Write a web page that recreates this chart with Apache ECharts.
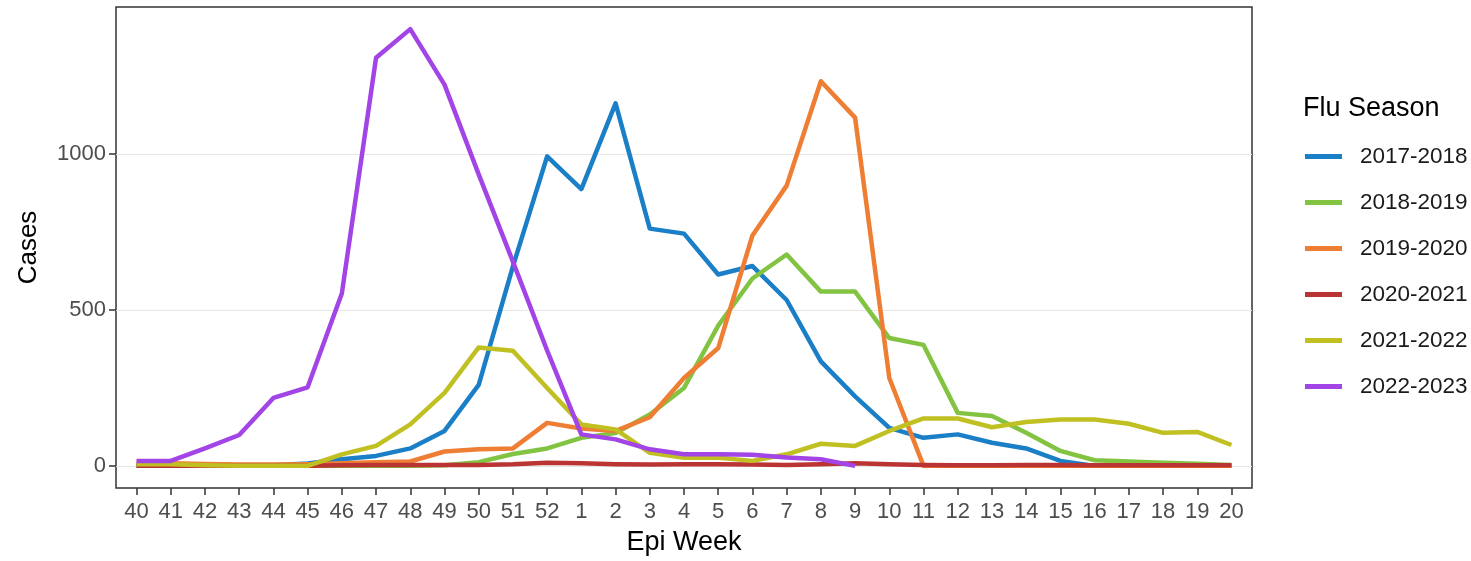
<!DOCTYPE html>
<html>
<head>
<meta charset="utf-8">
<script src="https://cdn.jsdelivr.net/npm/echarts@6/dist/echarts.min.js"></script>
<style>
html,body{margin:0;padding:0;background:#fff;}
#chart{width:1471px;height:561px;}
</style>
</head>
<body>
<div id="chart"></div>
<script>
const weeks = ['40','41','42','43','44','45','46','47','48','49','50','51','52',
  '1','2','3','4','5','6','7','8','9','10','11','12','13','14','15','16','17','18','19','20'];
const seasons = ['2017-2018','2018-2019','2019-2020','2020-2021','2021-2022','2022-2023'];
const s2017_2018 = [0,0,0,0,2,8,21,32,56,112,260,640,993,
  888,1163,761,745,614,641,532,335,223,122,90,101,74,56,16,0,0,0,0,0];
const s2018_2019 = [0,0,0,0,0,0,0,0,0,2,12,38,56,
  90,105,165,250,450,601,678,559,559,410,388,170,160,106,48,18,14,10,7,3];
const s2019_2020 = [10,8,6,4,4,5,8,12,14,46,53,56,138,
  120,112,156,282,378,739,899,1234,1117,282,0,0,0,0,0,0,0,0,0,0];
const s2020_2021 = [0,0,0,0,0,0,2,3,3,3,3,5,10,
  8,5,4,5,5,4,3,5,8,5,3,2,2,3,3,2,2,2,2,2];
const s2021_2022 = [5,5,2,0,0,0,37,64,133,234,380,369,250,
  133,117,42,26,26,16,37,71,64,112,152,152,124,141,149,149,135,106,109,67];
const s2022_2023 = [16,16,56,99,218,252,553,1309,1401,1223,935,655,370,
  101,85,53,37,37,36,27,21,0,null,null,null,null,null,null,null,null,null,null,null];
const yTicks = [0,500,1000];

const seriesValues = [s2017_2018,s2018_2019,s2019_2020,s2020_2021,s2021_2022,s2022_2023];
const colors = ['#1a7fc6','#82c341','#ee7e33','#bb3434','#c0c023','#a244e6'];
const FONT = 'Liberation Sans, Arial, sans-serif';

const chart = echarts.init(document.getElementById('chart'), null, {renderer:'canvas'});
const idx = weeks.map((w,i)=>i);

chart.setOption({
  animation:false,
  backgroundColor:'#ffffff',
  textStyle:{fontFamily:FONT},
  color:colors,
  title:{
    text:'Flu Season', left:1298, top:90,
    textStyle:{fontFamily:FONT, fontSize:27, fontWeight:'normal', color:'#000'}
  },
  legend:{
    orient:'vertical', left:1300, top:140,
    itemWidth:37, itemHeight:5, itemGap:23, icon:'rect',
    data:seasons,
    textStyle:{fontFamily:FONT, fontSize:22.5, color:'#1a1a1a', lineHeight:22, padding:[0,0,0,13]}
  },
  grid:{left:116, right:219, top:7, bottom:70.5, show:true, borderColor:'#333333', borderWidth:1.5, backgroundColor:'transparent', containLabel:false},
  xAxis:{
    type:'value', min:-0.6, max:32.6,
    name:'Epi Week', nameLocation:'middle', nameGap:41,
    nameTextStyle:{fontFamily:FONT, fontSize:27, color:'#000'},
    axisLine:{show:false, onZero:false},
    axisTick:{show:true, length:7, customValues:idx, lineStyle:{color:'#333', width:1.5}},
    axisLabel:{show:true, customValues:idx, margin:13, fontFamily:FONT, fontSize:22, color:'#4d4d4d',
      formatter:(v)=>weeks[Math.round(v)]},
    splitLine:{show:false}
  },
  yAxis:{
    type:'value', min:-71, max:1472,
    name:'Cases', nameLocation:'middle', nameGap:74, nameRotate:90,
    nameTextStyle:{fontFamily:FONT, fontSize:26, color:'#000'},
    axisLine:{show:false, onZero:false},
    axisTick:{show:true, length:7, customValues:yTicks, lineStyle:{color:'#333', width:1.5}},
    axisLabel:{show:true, customValues:yTicks, margin:10, fontFamily:FONT, fontSize:22, color:'#4d4d4d',
      formatter:(v)=>String(v)},
    splitLine:{show:true, lineStyle:{color:'#e6e6e6', width:1.2}}
  },
  series: seasons.map((name,k)=>({
    name:name, type:'line', showSymbol:false, symbol:'none', connectNulls:false,
    lineStyle:{width:4.5, color:colors[k], join:'round'},
    itemStyle:{color:colors[k]},
    data: seriesValues[k].map((v,i)=>[i,v])
  }))
});
</script>
</body>
</html>
